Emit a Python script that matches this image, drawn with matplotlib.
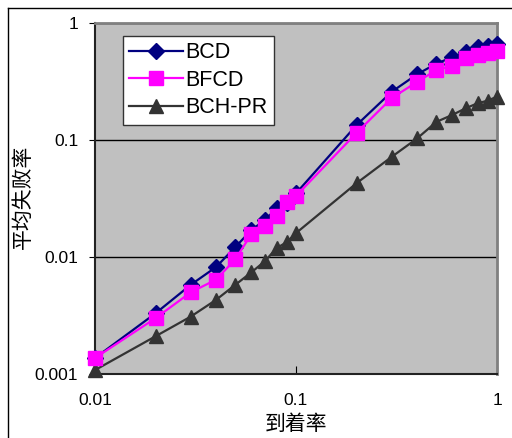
import matplotlib
matplotlib.use("Agg")
import matplotlib.pyplot as plt
from matplotlib.lines import Line2D

plt.rcParams['font.family'] = ['Liberation Sans', 'Noto Sans CJK SC', 'DejaVu Sans']

# arrival rate (x) and average failure rate per scheme
arrival = [0.01, 0.02, 0.03, 0.04, 0.05, 0.06, 0.07, 0.08, 0.09, 0.1,
           0.2, 0.3, 0.4, 0.5, 0.6, 0.7, 0.8, 0.9, 1.0]
bcd = [0.00137, 0.0033, 0.0058, 0.0082, 0.0122, 0.017, 0.0207, 0.026, 0.029, 0.035,
       0.134, 0.259, 0.364, 0.45, 0.51, 0.57, 0.62, 0.64, 0.66]
bfcd = [0.00137, 0.0030, 0.0050, 0.0064, 0.0096, 0.0157, 0.0184, 0.0224, 0.0295, 0.0332,
        0.115, 0.229, 0.313, 0.397, 0.429, 0.50, 0.53, 0.557, 0.58]
bchpr = [0.00108, 0.0021, 0.0031, 0.0043, 0.0058, 0.0074, 0.0092, 0.0119, 0.0134, 0.016,
         0.0427, 0.072, 0.103, 0.143, 0.164, 0.187, 0.206, 0.217, 0.235]

xticks = [0.01, 0.1, 1]
xtick_labels = ['0.01', '0.1', '1']
yticks = [0.001, 0.01, 0.1, 1]
ytick_labels = ['0.001', '0.01', '0.1', '1']

W, H = 512, 438
fig = plt.figure(figsize=(W / 100, H / 100), dpi=100)
L, R, T, B = 95, 497, 23, 374
ax = fig.add_axes([L / W, 1 - B / H, (R - L) / W, (B - T) / H])
ax.set_facecolor('#C0C0C0')

ax.plot(arrival, bcd, color='#000080', marker='D', markersize=8, lw=1.6,
        label='BCD', clip_on=False, zorder=3)
ax.plot(arrival, bfcd, color='#FF00FF', marker='s', markersize=10.5, lw=1.6,
        label='BFCD', clip_on=False, zorder=4)
ax.plot(arrival, bchpr, color='#333333', marker='^', markersize=10, lw=1.6,
        label='BCH-PR', clip_on=False, zorder=3)

ax.set_xscale('log')
ax.set_yscale('log')
ax.set_xlim(0.01, 1)
ax.set_ylim(0.001, 1)
ax.set_xticks(xticks)
ax.set_xticklabels(xtick_labels)
ax.set_yticks(yticks)
ax.set_yticklabels(ytick_labels)
ax.minorticks_off()
ax.tick_params(axis='x', direction='in', length=6, pad=14, labelsize=12.5)
ax.tick_params(axis='y', direction='out', length=4, pad=8, labelsize=12.5)

ax.yaxis.grid(True, color='black', lw=1)
ax.set_axisbelow(True)

for s in ['left', 'bottom']:
    ax.spines[s].set_color('#222222')
    ax.spines[s].set_linewidth(1.5)
for s in ['top', 'right']:
    ax.spines[s].set_color('#808080')
    ax.spines[s].set_linewidth(2)

ax.set_xlabel('到着率', fontsize=15)
ax.xaxis.set_label_coords(0.5, (B - 414) / (B - T))
ax.set_ylabel('平均失败率', fontsize=15)
ax.yaxis.set_label_coords((33 - L) / (R - L), (B - 197) / (B - T))

leg = ax.legend(loc='upper left', bbox_to_anchor=((123 - L) / (R - L), (B - 36) / (B - T)),
                borderaxespad=0, fontsize=15.5, handlelength=2.5, labelspacing=0.3,
                fancybox=False, framealpha=1, edgecolor='#333333',
                borderpad=0.3, handletextpad=0.1)
leg.get_frame().set_linewidth(1)

# outer chart border (left and top edges visible)
fig.add_artist(Line2D([8 / W, 8 / W], [0, 1 - 8 / H], color='black', lw=1))
fig.add_artist(Line2D([8 / W, 1], [1 - 8 / H, 1 - 8 / H], color='black', lw=1))

fig.savefig('out.png', dpi=100)
